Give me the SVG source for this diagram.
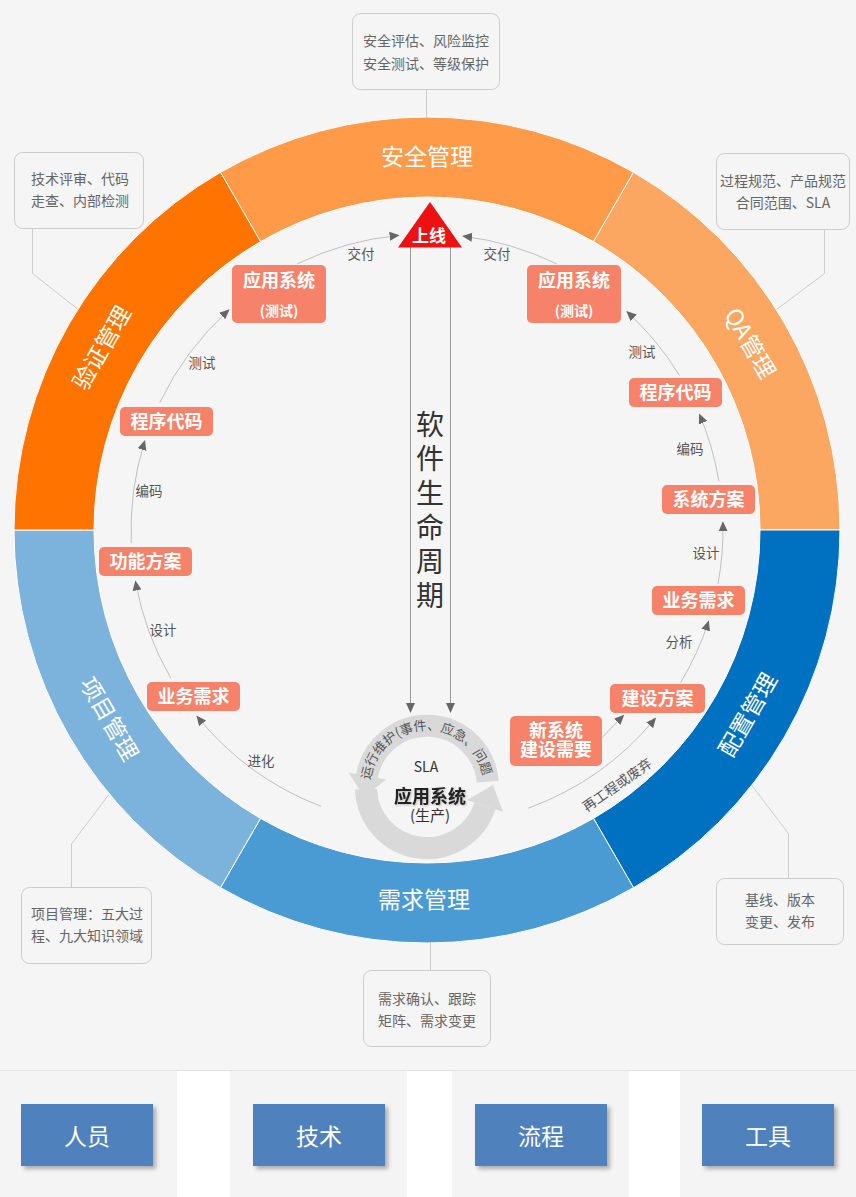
<svg xmlns="http://www.w3.org/2000/svg" width="856" height="1197" viewBox="0 0 856 1197">
<defs>
<style>
text{font-family:"Noto Sans CJK SC","Noto Sans",sans-serif}
.seg{stroke:#ffffff;stroke-width:1}
.seglbl{fill:#ffffff;font-size:23px;text-anchor:middle}
.note{fill:#f5f5f5;stroke:#cccccc;stroke-width:1}
.notetx{fill:#666666;font-size:14px;text-anchor:middle}
.lead{fill:none;stroke:#cccccc;stroke-width:1}
.node{fill:#f7826a}
.ntx{fill:#ffffff;font-size:18px;font-weight:bold;text-anchor:middle}
.ntx2{fill:#ffffff;font-size:14px;font-weight:bold;text-anchor:middle}
.arc{fill:none;stroke:#c0c0c0;stroke-width:1;marker-end:url(#arr)}
.elbl{fill:#555555;font-size:13.5px;text-anchor:middle}
.vline{fill:none;stroke:#9a9a9a;stroke-width:1;marker-end:url(#arr)}
.title{fill:#333333;font-size:28px;text-anchor:middle}
.band{fill:none;stroke:#d9d9d9;stroke-width:22}
.btn{fill:#4f81bd}
.btntx{fill:#ffffff;font-size:23px;text-anchor:middle}
</style>
<marker id="arr" markerWidth="10" markerHeight="10" refX="9" refY="5" orient="auto" markerUnits="userSpaceOnUse"><path d="M0,0.5 L10,5 L0,9.5 z" fill="#666666"/></marker>
<filter id="sh" x="-20%" y="-20%" width="140%" height="150%"><feDropShadow dx="3" dy="3" stdDeviation="2" flood-color="#000000" flood-opacity="0.3"/></filter>
<filter id="tsh" x="-20%" y="-40%" width="140%" height="180%"><feDropShadow dx="1" dy="1" stdDeviation="1" flood-color="#000000" flood-opacity="0.25"/></filter>
<path id="slaTextPath" d="M 370.9 777.1 A 57 57 0 0 1 483.1 777.1"/>
</defs>

<!-- backgrounds -->
<rect x="0" y="0" width="856" height="1071" fill="#f5f5f5"/>
<rect x="0" y="1071" width="856" height="126" fill="#ffffff"/>
<rect x="0" y="1071" width="177" height="126" fill="#f4f4f4"/>
<rect x="230" y="1071" width="177" height="126" fill="#f4f4f4"/>
<rect x="452" y="1071" width="177" height="126" fill="#f4f4f4"/>
<rect x="680" y="1071" width="176" height="126" fill="#f4f4f4"/>
<line x1="0" y1="1070.5" x2="856" y2="1070.5" stroke="#e2e2e2" stroke-width="1"/>

<!-- ring -->
<g id="ring">
<g id="seg-safety"><path class="seg" fill="#fe9a48" d="M 220.5 172.33 A 413 413 0 0 1 633.5 172.33 L 593.5 241.62 A 333 333 0 0 0 260.5 241.62 Z"/><text class="seglbl" x="427" y="165">安全管理</text></g>
<g id="seg-qa"><path class="seg" fill="#fba661" d="M 633.5 172.33 A 413 413 0 0 1 840 530 L 760 530 A 333 333 0 0 0 593.5 241.62 Z"/><text class="seglbl" transform="translate(750,343.5) rotate(60)" x="0" y="8">QA管理</text></g>
<g id="seg-config"><path class="seg" fill="#0070c0" d="M 840 530 A 413 413 0 0 1 633.5 887.67 L 593.5 818.38 A 333 333 0 0 0 760 530 Z"/><text class="seglbl" transform="translate(748,715) rotate(-60)" x="0" y="8">配置管理</text></g>
<g id="seg-req"><path class="seg" fill="#4a9ad3" d="M 633.5 887.67 A 413 413 0 0 1 220.5 887.67 L 260.5 818.38 A 333 333 0 0 0 593.5 818.38 Z"/><text class="seglbl" x="424" y="908">需求管理</text></g>
<g id="seg-proj"><path class="seg" fill="#7bb3dc" d="M 220.5 887.67 A 413 413 0 0 1 14 530 L 94 530 A 333 333 0 0 0 260.5 818.38 Z"/><text class="seglbl" transform="translate(109,719) rotate(60)" x="0" y="8">项目管理</text></g>
<g id="seg-verify"><path class="seg" fill="#ff7300" d="M 14 530 A 413 413 0 0 1 220.5 172.33 L 260.5 241.62 A 333 333 0 0 0 94 530 Z"/><text class="seglbl" transform="translate(102,348) rotate(-60)" x="0" y="8">验证管理</text></g>
</g>

<!-- annotation notes -->
<g id="notes">
<g id="note-top"><line class="lead" x1="426.5" y1="89" x2="426.5" y2="118"/><rect class="note" x="352.5" y="13.5" width="147" height="76" rx="8"/><text class="notetx" x="426" y="46">安全评估、风险监控</text><text class="notetx" x="426" y="69">安全测试、等级保护</text></g>
<g id="note-lt"><polyline class="lead" points="32.5,228 32.5,273.5 77,308.5"/><rect class="note" x="14.5" y="152.5" width="129" height="76" rx="8"/><text class="notetx" x="80" y="184">技术评审、代码</text><text class="notetx" x="80" y="206">走查、内部检测</text></g>
<g id="note-rt"><polyline class="lead" points="824.5,229 824.5,273.5 776.5,309.5"/><rect class="note" x="716.5" y="153.5" width="133" height="76" rx="8"/><text class="notetx" x="783" y="186">过程规范、产品规范</text><text class="notetx" x="783" y="208">合同范围、SLA</text></g>
<g id="note-lb"><polyline class="lead" points="71.5,887 71.5,844 108.5,795"/><rect class="note" x="21.5" y="887.5" width="130" height="76" rx="8"/><text class="notetx" x="87" y="919">项目管理：五大过</text><text class="notetx" x="87" y="941">程、九大知识领域</text></g>
<g id="note-rb"><polyline class="lead" points="788.5,878 788.5,833.5 751.5,785"/><rect class="note" x="716.5" y="878.5" width="127" height="66" rx="8"/><text class="notetx" x="780" y="905">基线、版本</text><text class="notetx" x="780" y="927">变更、发布</text></g>
<g id="note-b"><line class="lead" x1="430.5" y1="942" x2="430.5" y2="970"/><rect class="note" x="363.5" y="970.5" width="127" height="76" rx="8"/><text class="notetx" x="427" y="1004">需求确认、跟踪</text><text class="notetx" x="427" y="1026">矩阵、需求变更</text></g>
</g>

<!-- connectors -->
<g id="connectors">
<path class="arc" d="M 528.2 808.2 A 296 296 0 0 0 655.4 718.3"/>
<path class="arc" d="M 680.7 682.4 A 296 296 0 0 0 708.5 621.5"/>
<path class="arc" d="M 718 583.9 A 296 296 0 0 0 722.9 522.3"/>
<path class="arc" d="M 718.9 481.1 A 296 296 0 0 0 699.5 414.4"/>
<path class="arc" d="M 679.4 375.3 A 296 296 0 0 0 627 311.8"/>
<path class="arc" d="M 556.8 263.9 A 296 296 0 0 0 463.1 236.2"/>
<path class="arc" d="M 320.9 806.3 A 296 296 0 0 1 197 716.3"/>
<path class="arc" d="M 170.7 678 A 296 296 0 0 1 135.5 581.4"/>
<path class="arc" d="M 131.3 542.9 A 296 296 0 0 1 144.7 441"/>
<path class="arc" d="M 159.8 402.6 A 296 296 0 0 1 228.9 310"/>
<path class="arc" d="M 297.2 263.9 A 296 296 0 0 1 398.6 235.4"/>
<path class="arc" d="M 601 739 Q 612 727 623.5 715.5"/>
<line class="vline" x1="410.5" y1="247" x2="410.5" y2="712"/>
<line class="vline" x1="450.5" y1="247" x2="450.5" y2="712"/>
<text class="elbl" x="361" y="259">交付</text>
<text class="elbl" x="497" y="259">交付</text>
<text class="elbl" x="202" y="368">测试</text>
<text class="elbl" x="642" y="357">测试</text>
<text class="elbl" x="149" y="496">编码</text>
<text class="elbl" x="690" y="454">编码</text>
<text class="elbl" x="163" y="635">设计</text>
<text class="elbl" x="706" y="558">设计</text>
<text class="elbl" x="679" y="647">分析</text>
<text class="elbl" x="261" y="766">进化</text>
<text class="elbl" transform="translate(617,785) rotate(-35)" x="0" y="5">再工程或废弃</text>
</g>

<!-- launch triangle -->
<g id="node-launch">
<polygon points="430,202 398,247.5 462,247.5" fill="#ee1111"/>
<text x="429" y="242" fill="#ffffff" font-size="17" font-weight="bold" text-anchor="middle">上线</text>
</g>

<!-- title -->
<g id="title">
<text class="title" x="430" y="435">软</text>
<text class="title" x="430" y="469">件</text>
<text class="title" x="430" y="504">生</text>
<text class="title" x="430" y="538">命</text>
<text class="title" x="430" y="572">周</text>
<text class="title" x="430" y="606">期</text>
</g>

<!-- lifecycle nodes -->
<g id="node-app-test-l"><rect class="node" x="232" y="265" width="94" height="58" rx="5"/><text class="ntx" x="279" y="287">应用系统</text><text class="ntx2" x="279" y="316">(测试)</text></g>
<g id="node-app-test-r"><rect class="node" x="527" y="265" width="94" height="58" rx="5"/><text class="ntx" x="574" y="287">应用系统</text><text class="ntx2" x="574" y="316">(测试)</text></g>
<g id="node-code-l"><rect class="node" x="120" y="407" width="93" height="29" rx="5"/><text class="ntx" x="166.5" y="428">程序代码</text></g>
<g id="node-code-r"><rect class="node" x="629" y="378" width="93" height="29" rx="5"/><text class="ntx" x="675.5" y="399">程序代码</text></g>
<g id="node-sys-r"><rect class="node" x="662" y="485" width="93" height="29" rx="5"/><text class="ntx" x="708.5" y="506">系统方案</text></g>
<g id="node-func-l"><rect class="node" x="99" y="547" width="93" height="29" rx="5"/><text class="ntx" x="145.5" y="568">功能方案</text></g>
<g id="node-biz-r"><rect class="node" x="652" y="586" width="93" height="29" rx="5"/><text class="ntx" x="698.5" y="607">业务需求</text></g>
<g id="node-biz-l"><rect class="node" x="147" y="682" width="93" height="29" rx="5"/><text class="ntx" x="193.5" y="703">业务需求</text></g>
<g id="node-build-r"><rect class="node" x="610" y="684" width="95" height="29" rx="5"/><text class="ntx" x="657.5" y="705">建设方案</text></g>
<g id="node-new"><rect class="node" x="510" y="716" width="92" height="50" rx="5"/><text class="ntx" x="556" y="737">新系统</text><text class="ntx" x="556" y="756">建设需要</text></g>

<!-- SLA cycle -->
<g id="node-sla">
<path class="band" d="M 487.8 781.7 A 61 61 0 0 0 366.9 776.4"/>
<polygon points="348.5,772.5 386,779.5 364,797" fill="#d9d9d9"/>
<path class="band" d="M 366 789.1 A 61 61 0 0 0 485 805.9"/>
<polygon points="467,800 503,811.8 493,785" fill="#d9d9d9"/>
<text fill="#555555" font-size="13" text-anchor="middle"><textPath href="#slaTextPath" startOffset="50%">运行维护(事件、应急、问题)</textPath></text>
<text x="426" y="772" fill="#333333" font-size="14" text-anchor="middle">SLA</text>
<text x="430" y="803" fill="#222222" font-size="18" font-weight="bold" text-anchor="middle" filter="url(#tsh)">应用系统</text>
<text x="430" y="821" fill="#333333" font-size="15" text-anchor="middle">(生产)</text>
</g>

<!-- bottom buttons -->
<g id="btn-people"><rect class="btn" x="21" y="1104" width="132" height="62" filter="url(#sh)"/><text class="btntx" x="87" y="1145">人员</text></g>
<g id="btn-tech"><rect class="btn" x="253" y="1104" width="132" height="62" filter="url(#sh)"/><text class="btntx" x="319" y="1145">技术</text></g>
<g id="btn-process"><rect class="btn" x="475" y="1104" width="132" height="62" filter="url(#sh)"/><text class="btntx" x="541" y="1145">流程</text></g>
<g id="btn-tools"><rect class="btn" x="702" y="1104" width="132" height="62" filter="url(#sh)"/><text class="btntx" x="768" y="1145">工具</text></g>
</svg>
